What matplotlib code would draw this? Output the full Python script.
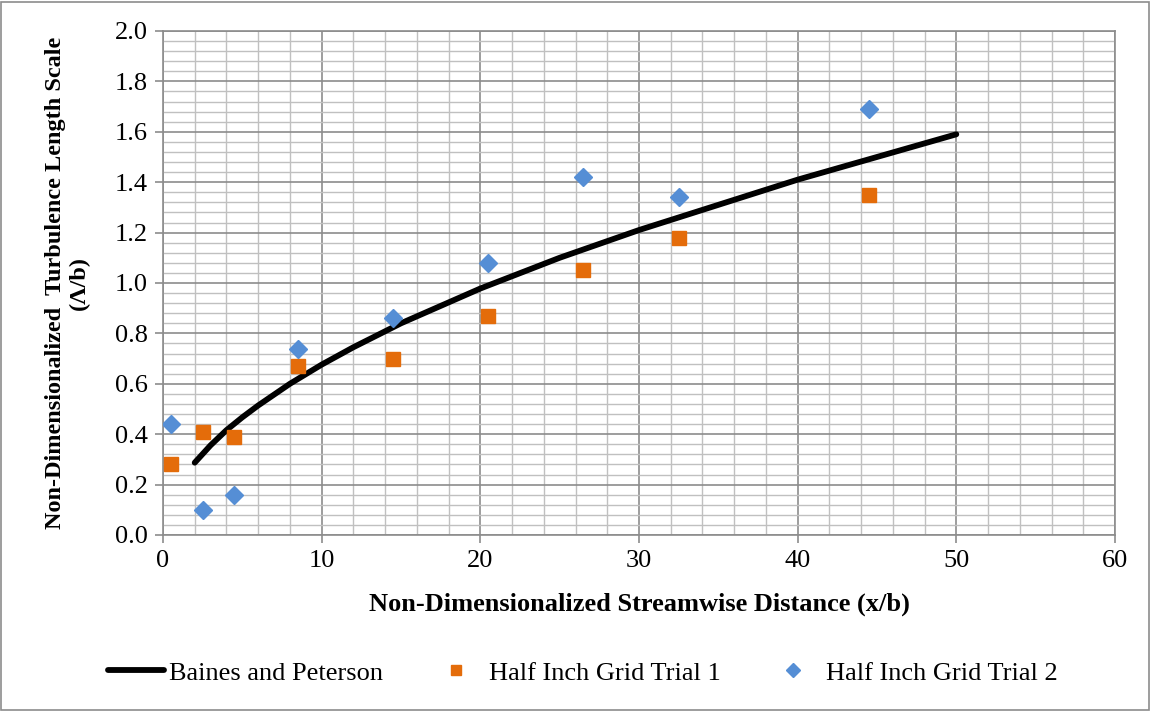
import numpy as np
import matplotlib
matplotlib.use("Agg")
import matplotlib.pyplot as plt
from matplotlib.ticker import MultipleLocator
from matplotlib.patches import Rectangle

# data
curve_x = [2, 3, 4, 5, 6, 8, 10, 12, 15, 20, 25, 30, 35, 40, 45, 50]
curve_y = [0.287, 0.356, 0.416, 0.467, 0.514, 0.600, 0.676, 0.745, 0.840,
           0.978, 1.100, 1.210, 1.310, 1.410, 1.500, 1.590]

trial_x = [0.5, 2.5, 4.5, 8.5, 14.5, 20.5, 26.5, 32.5, 44.5]
trial1_y = [0.28, 0.41, 0.39, 0.67, 0.70, 0.87, 1.05, 1.18, 1.35]
trial2_y = [0.44, 0.10, 0.16, 0.74, 0.86, 1.08, 1.42, 1.34, 1.69]

labels = ["Baines and Peterson", "Half Inch Grid Trial 1", "Half Inch Grid Trial 2"]

plt.rcParams["font.family"] = ["Liberation Serif", "DejaVu Serif"]

fig = plt.figure(figsize=(11.51, 7.12), dpi=100)
ax = fig.add_axes([0.1416, 0.2486, 0.8271, 0.7079])

# grid
ax.set_xlim(0, 60)
ax.set_ylim(0, 2.0)
ax.xaxis.set_major_locator(MultipleLocator(10))
ax.xaxis.set_minor_locator(MultipleLocator(2))
ax.yaxis.set_major_locator(MultipleLocator(0.2))
ax.yaxis.set_minor_locator(MultipleLocator(0.04))
ax.grid(which="minor", color="#c0c0c0", lw=1.0)
ax.grid(which="major", color="#8c8c8c", lw=1.2)
ax.set_axisbelow(True)
ax.yaxis.set_major_formatter(matplotlib.ticker.FormatStrFormatter("%.1f"))
ax.tick_params(which="major", direction="out", length=6, width=1.2, color="#8c8c8c",
               labelsize=19, pad=5)
ax.tick_params(which="minor", length=0)
for s in ax.spines.values():
    s.set_color("#8c8c8c")
    s.set_linewidth(1.2)

# series
ax.plot(curve_x, curve_y, color="black", lw=4.2, solid_capstyle="round", label=labels[0], zorder=3)
ax.plot(trial_x, trial1_y, ls="none", marker="s", ms=10, color="#e46c0a", label=labels[1], zorder=4)
ax.plot(trial_x, trial2_y, ls="none", marker="D", ms=9.5, color="#558ed5", label=labels[2], zorder=4)

ax.set_xlabel("Non-Dimensionalized Streamwise Distance (x/b)", fontsize=19, fontweight="bold", va="center")
ax.xaxis.set_label_coords(0.5, -0.137)
ax.set_ylabel("Non-Dimensionalized  Turbulence Length Scale\n(Λ/b)", fontsize=17.5,
              fontweight="bold", linespacing=1.15, va="center")
ax.yaxis.set_label_coords(-0.100, 0.5)

fig.legend(loc="center", bbox_to_anchor=(0.5065, 0.055), ncol=3, frameon=False,
           fontsize=19, handlelength=2.1, handletextpad=0.2, columnspacing=1.7, markerscale=0.7)

# chart border
fig.patches.append(Rectangle((0.001, 0.003), 0.997, 0.994, transform=fig.transFigure,
                             fill=False, edgecolor="#8c8c8c", lw=1.2))

fig.savefig("out.png", dpi=100)
